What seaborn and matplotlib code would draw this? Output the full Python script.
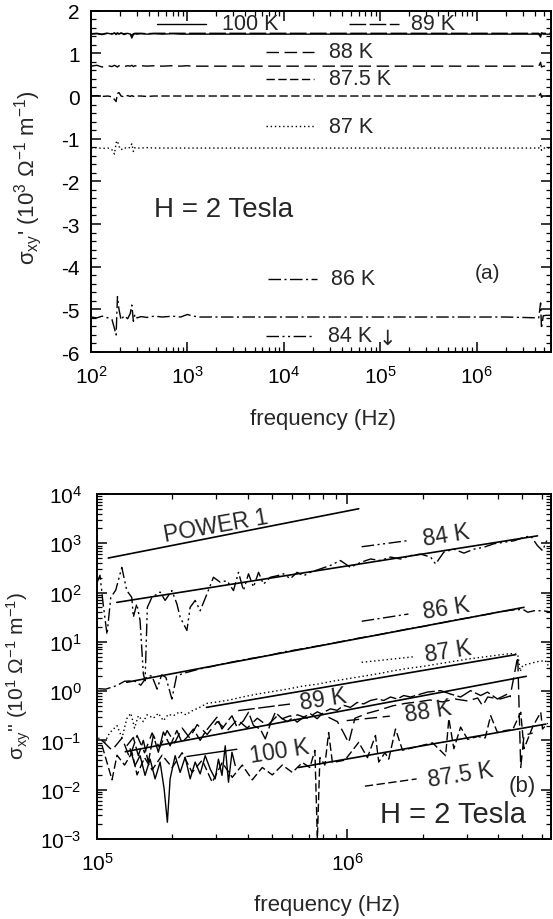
import numpy as np
import matplotlib
matplotlib.use("Agg")
import matplotlib.pyplot as plt
from matplotlib.lines import Line2D
from matplotlib.ticker import LogLocator, MultipleLocator, NullFormatter
import seaborn as sns

sns.set_style("ticks")
plt.rcParams['font.family'] = ['Liberation Sans', 'DejaVu Sans']
plt.rcParams['mathtext.fontset'] = 'custom'
plt.rcParams['mathtext.rm'] = 'Liberation Sans'
plt.rcParams['mathtext.it'] = 'Liberation Sans:italic'
plt.rcParams['mathtext.bf'] = 'Liberation Sans:bold'
plt.rcParams['mathtext.default'] = 'regular'
plt.rcParams['lines.scale_dashes'] = False
plt.rcParams['axes.unicode_minus'] = False

# ---------------- panel (a): sigma_xy' vs frequency ----------------
freq_a = [100, 115, 130, 150, 165, 175, 182, 188, 195, 205, 220, 240, 255, 265, 275,
          285, 300, 330, 380, 450, 550, 700, 850, 1000, 1100, 1300, 2000, 5000, 2e4,
          1e5, 5e5, 2e6, 4.4e6, 4.6e6, 4.7e6, 4.9e6, 5.3e6, 5.9e6]
sig_a_100 = [1.45, 1.46, 1.44, 1.47, 1.45, 1.48, 1.44, 1.47, 1.45, 1.48, 1.44, 1.47, 1.45, 1.36, 1.44,
             1.46, 1.45, 1.46, 1.45, 1.46, 1.45, 1.46, 1.45, 1.45, 1.45, 1.45, 1.45, 1.45, 1.45,
             1.45, 1.45, 1.45, 1.45, 1.38, 1.47, 1.45, 1.45, 1.45]
sig_a_89 = [1.46, 1.47, 1.45, 1.48, 1.46, 1.47, 1.46, 1.48, 1.46, 1.47, 1.46, 1.47, 1.46, 1.42, 1.46,
            1.47, 1.47, 1.47, 1.46, 1.47, 1.47, 1.47, 1.47, 1.47, 1.47, 1.47, 1.47, 1.47, 1.47,
            1.47, 1.47, 1.47, 1.47, 1.43, 1.48, 1.47, 1.47, 1.47]
sig_a_88 = [0.70, 0.72, 0.68, 0.71, 0.69, 0.72, 0.70, 0.68, 0.71, 0.72, 0.69, 0.71, 0.70, 0.72, 0.69,
            0.71, 0.70, 0.71, 0.70, 0.71, 0.70, 0.71, 0.70, 0.71, 0.70, 0.70, 0.70, 0.70, 0.70,
            0.70, 0.70, 0.70, 0.70, 0.79, 0.68, 0.70, 0.70, 0.70]
sig_a_875 = [0.00, 0.01, -0.01, 0.00, -0.02, -0.08, -0.13, 0.06, 0.08, 0.00, -0.02, 0.01, -0.01, 0.01, -0.01,
             0.00, 0.00, 0.00, -0.01, 0.00, 0.00, 0.00, 0.00, 0.00, 0.00, 0.00, 0.00, 0.00, 0.00,
             0.00, 0.00, 0.00, 0.00, 0.06, -0.03, 0.00, 0.00, 0.00]
sig_a_87 = [-1.22, -1.21, -1.23, -1.22, -1.26, -1.36, -1.10, -1.05, -1.18, -1.26, -1.21, -1.23, -1.20, -1.12, -1.30,
            -1.21, -1.22, -1.22, -1.21, -1.22, -1.22, -1.22, -1.22, -1.22, -1.22, -1.22, -1.22, -1.22, -1.22,
            -1.22, -1.22, -1.22, -1.22, -1.15, -1.27, -1.22, -1.22, -1.22]
sig_a_86 = [-5.18, -5.20, -5.16, -5.20, -5.24, -5.45, -5.60, -4.70, -5.00, -5.25, -5.15, -5.22, -5.10, -4.90, -5.28,
            -5.12, -5.20, -5.17, -5.19, -5.16, -5.18, -5.16, -5.18, -5.12, -5.15, -5.18, -5.18, -5.18, -5.18,
            -5.18, -5.18, -5.18, -5.20, -4.85, -5.45, -5.15, -5.14, -5.14]

# ---------------- panel (b): sigma_xy'' vs frequency (values read as decade exponents) ----------------
logf_84 = [5.000, 5.012, 5.025, 5.040, 5.055, 5.075, 5.099, 5.119, 5.139, 5.145, 5.159, 5.172, 5.185, 5.192,
           5.201, 5.219, 5.252, 5.272, 5.299, 5.319, 5.332, 5.359, 5.372, 5.392, 5.412, 5.439, 5.465, 5.492,
           5.519, 5.545, 5.565, 5.585, 5.605, 5.625, 5.645, 5.665, 5.692, 5.719, 5.745, 5.772, 5.799, 5.825,
           5.852, 5.892, 5.932, 5.972, 6.012, 6.052, 6.092, 6.132, 6.172, 6.212, 6.252, 6.292, 6.332, 6.352,
           6.385, 6.425, 6.465, 6.505, 6.545, 6.585, 6.625, 6.665, 6.705, 6.732, 6.759, 6.779, 6.799]
logs_84 = [2.20, 2.35, 1.75, 1.15, 1.90, 2.05, 2.51, 2.04, 1.90, 1.50, 1.77, 1.43, 0.35, 0.21,
           1.70, 1.90, 2.01, 1.84, 2.04, 1.77, 1.50, 1.23, 1.70, 1.84, 1.63, 1.97, 2.31, 2.21,
           2.24, 2.04, 2.41, 2.04, 2.38, 2.11, 2.41, 2.17, 2.31, 2.34, 2.38, 2.28, 2.41, 2.34,
           2.41, 2.48, 2.55, 2.65, 2.51, 2.61, 2.68, 2.65, 2.72, 2.68, 2.75, 2.78, 2.72, 2.58,
           2.82, 2.88, 2.80, 2.88, 2.92, 2.99, 3.02, 3.05, 3.12, 3.15, 2.95, 2.85, 3.09]
logf_86 = [5.005, 5.035, 5.078, 5.110, 5.148, 5.175, 5.200, 5.219, 5.240, 5.258, 5.275, 5.299, 5.318, 5.345,
           5.374, 5.410, 5.459, 5.500, 5.550, 5.600, 5.650, 5.700, 5.750, 5.800, 5.850, 5.900, 5.950, 6.000,
           6.050, 6.100, 6.150, 6.200, 6.250, 6.300, 6.350, 6.400, 6.450, 6.500, 6.550, 6.600, 6.650, 6.700,
           6.720, 6.745, 6.780, 6.810]
logs_86 = [0.05, 0.04, 0.11, 0.20, 0.21, 0.12, 0.30, 0.31, 0.04, 0.33, 0.28, -0.16, 0.31, 0.36,
           0.40, 0.45, 0.50, 0.55, 0.60, 0.65, 0.69, 0.74, 0.80, 0.84, 0.89, 0.93, 0.98, 1.03,
           1.08, 1.12, 1.17, 1.22, 1.27, 1.31, 1.36, 1.41, 1.46, 1.50, 1.55, 1.60, 1.64, 1.66,
           1.60, 1.63, 1.63, 1.61]
logf_87 = [5.005, 5.012, 5.030, 5.050, 5.080, 5.100, 5.119, 5.135, 5.150, 5.165, 5.185, 5.200, 5.225, 5.245,
           5.265, 5.285, 5.305, 5.330, 5.355, 5.380, 5.410, 5.439, 5.480, 5.530, 5.580, 5.640, 5.700, 5.760,
           5.820, 5.880, 5.940, 6.000, 6.060, 6.120, 6.180, 6.240, 6.300, 6.360, 6.420, 6.480, 6.540, 6.600,
           6.650, 6.680, 6.690, 6.700, 6.730, 6.760, 6.790, 6.810]
logs_87 = [-0.95, -0.97, -1.05, -0.85, -0.70, -0.95, -0.56, -0.45, -0.75, -0.50, -0.62, -0.48, -0.55, -0.45,
           -0.60, -0.47, -0.50, -0.42, -0.48, -0.40, -0.33, -0.25, -0.22, -0.18, -0.12, -0.06, -0.01, 0.04,
           0.10, 0.14, 0.20, 0.25, 0.30, 0.35, 0.41, 0.46, 0.50, 0.55, 0.60, 0.65, 0.69, 0.73,
           0.76, 0.75, 0.40, 0.52, 0.56, 0.60, 0.62, 0.45]
logf_89 = [5.119, 5.145, 5.165, 5.185, 5.205, 5.225, 5.245, 5.265, 5.292, 5.319, 5.339, 5.359, 5.385, 5.412,
           5.432, 5.452, 5.479, 5.499, 5.519, 5.539, 5.559, 5.585, 5.605, 5.625, 5.652, 5.672, 5.692, 5.712,
           5.739, 5.772, 5.799, 5.825, 5.852, 5.879, 5.905, 5.932, 5.959, 5.985, 6.012, 6.039, 6.065, 6.092,
           6.119, 6.145, 6.172, 6.199, 6.225, 6.252, 6.292, 6.319, 6.372, 6.412, 6.452, 6.492, 6.532, 6.559,
           6.599, 6.639, 6.652]
logs_89 = [-1.11, -0.94, -1.31, -1.00, -1.44, -0.90, -1.24, -0.83, -1.11, -0.80, -1.04, -0.94, -0.77, -1.00,
           -0.83, -0.70, -0.53, -0.77, -0.63, -0.50, -0.73, -0.60, -0.43, -0.70, -0.77, -0.97, -0.67, -0.43,
           -0.56, -0.50, -0.63, -0.53, -0.46, -0.56, -0.43, -0.36, -0.39, -0.29, -0.33, -0.23, -0.26, -0.19,
           -0.16, -0.19, -0.12, -0.16, -0.09, -0.12, -0.06, -0.02, 0.01, -0.06, -0.12, 0.01, -0.09, -0.02,
           -0.16, -0.06, -0.12]
logf_100 = [5.132, 5.152, 5.172, 5.192, 5.212, 5.232, 5.252, 5.268, 5.281, 5.292, 5.312, 5.332, 5.352,
            5.372, 5.392, 5.412, 5.432, 5.452, 5.472, 5.485, 5.499, 5.512, 5.525, 5.539, 5.552]
logs_100 = [-1.17, -1.51, -1.31, -1.71, -1.38, -1.78, -1.44, -1.98, -2.66, -1.78, -1.31, -1.65, -1.34,
            -1.78, -1.44, -1.68, -1.31, -1.58, -1.78, -1.38, -1.71, -1.11, -1.85, -1.24, -1.51]
logf_88 = [5.020, 5.060, 5.100, 5.130, 5.160, 5.190, 5.220, 5.250, 5.280, 5.310, 5.340, 5.370, 5.400, 5.440,
           5.480, 5.520, 5.560, 5.600, 5.640, 5.680, 5.720, 5.760, 5.800, 5.840, 5.880, 5.920, 5.960, 5.985,
           6.005, 6.030, 6.080, 6.130, 6.180, 6.230, 6.280, 6.330, 6.380, 6.430, 6.480, 6.520, 6.540, 6.560,
           6.610, 6.650, 6.680, 6.692, 6.705, 6.740]
logs_88 = [-1.00, -1.20, -0.95, -1.35, -0.90, -1.25, -0.85, -1.15, -0.80, -1.05, -0.75, -0.95, -0.68, -0.88,
           -0.62, -0.80, -0.58, -0.75, -0.55, -0.70, -0.50, -0.62, -0.48, -0.55, -0.42, -0.52, -0.62, -0.85,
           -1.05, -0.55, -0.45, -0.38, -0.30, -0.25, -0.22, -0.18, -0.22, -0.16, -0.20, -0.14, -0.30, -0.12,
           -0.16, -0.10, 0.70, -1.55, -0.90, -0.85]
logf_875 = [5.020, 5.040, 5.060, 5.080, 5.110, 5.140, 5.160, 5.190, 5.220, 5.260, 5.300, 5.340, 5.380, 5.420,
            5.460, 5.500, 5.540, 5.580, 5.620, 5.660, 5.700, 5.740, 5.780, 5.820, 5.850, 5.870, 5.880, 5.890,
            5.910, 5.925, 5.940, 5.990, 6.045, 6.080, 6.112, 6.125, 6.150, 6.165, 6.192, 6.220, 6.260, 6.300,
            6.340, 6.392, 6.405, 6.425, 6.452, 6.480, 6.520, 6.550, 6.572, 6.599, 6.630, 6.660, 6.692, 6.705,
            6.740, 6.772, 6.779, 6.800]
logs_875 = [-1.10, -1.45, -1.80, -1.30, -1.50, -1.25, -1.70, -1.35, -1.60, -1.30, -1.55, -1.25, -1.65, -1.40,
            -1.85, -1.45, -1.75, -1.50, -1.80, -1.55, -1.70, -1.50, -1.65, -1.45, -1.55, -1.20, -3.00, -1.35,
            -1.50, -0.84, -1.45, -1.40, -1.04, -1.35, -0.90, -1.44, -1.25, -1.38, -0.77, -1.20, -1.15, -1.10,
            -1.05, -1.31, -0.56, -1.17, -0.73, -0.98, -0.92, -0.95, -0.50, -0.84, -0.80, -0.78, -0.43, -1.17,
            -0.72, -0.43, -0.77, -0.65]

# straight fitted lines (end points, decade exponents)
fit_logf_84, fit_logs_84 = [5.079, 6.759], [1.80, 3.15]
fit_logf_86, fit_logs_86 = [5.119, 6.705], [0.18, 1.70]
fit_logf_87, fit_logs_87 = [5.437, 6.672], [-0.33, 0.74]
fit_logf_89, fit_logs_89 = [5.113, 6.714], [-1.23, 0.30]
fit_logf_875, fit_logs_875 = [5.805, 6.792], [-1.55, -0.67]
power1_logf, power1_logs = [5.045, 6.045], [2.70, 3.70]

# line styles per temperature
STY = {
    '100 K': '-',
    '89 K': (0, (12, 2.5)),
    '88 K': (0, (9, 4)),
    '87.5 K': (0, (6, 2.5)),
    '87 K': (0, (1, 2)),
    '86 K': (0, (9, 2.5, 1.5, 2.5)),
    '84 K': (0, (9, 2.5, 1.5, 2.5, 1.5, 2.5)),
}

fig = plt.figure(figsize=(5.53, 9.2), dpi=100)
ax1 = fig.add_axes([0.1646, 0.6163, 0.8318, 0.3710])
ax2 = fig.add_axes([0.1754, 0.0870, 0.8210, 0.3750])

LW = 1.0


def curve(ax, x, y, label, lw=LW):
    sns.lineplot(x=x, y=y, ax=ax, color='black', lw=lw, linestyle=STY[label],
                 estimator=None, sort=False, legend=False)


# ---- panel (a) ----
curve(ax1, freq_a, sig_a_100, '100 K')
curve(ax1, freq_a, sig_a_89, '89 K')
curve(ax1, freq_a, sig_a_88, '88 K')
curve(ax1, freq_a, sig_a_875, '87.5 K')
curve(ax1, freq_a, sig_a_87, '87 K')
curve(ax1, freq_a, sig_a_86, '86 K')

ax1.set_xscale('log')
ax1.set_xlim(1e2, 5.9e6)
ax1.set_ylim(-6, 2)
ax1.yaxis.set_major_locator(MultipleLocator(1))
ax1.yaxis.set_minor_locator(MultipleLocator(0.2))
ax1.xaxis.set_major_locator(LogLocator(base=10, numticks=20))
ax1.xaxis.set_minor_locator(LogLocator(base=10, subs=np.arange(2, 10), numticks=20))
ax1.xaxis.set_minor_formatter(NullFormatter())


def key_a(ax, x0, x1, y, label, tx):
    ax.add_line(Line2D([x0, x1], [y, y], transform=ax.transAxes, color='black',
                       lw=LW, linestyle=STY[label]))
    ax.text(tx, y, label, transform=ax.transAxes, ha='left',
            va='center', fontsize=15.5)


key_a(ax1, 0.143, 0.250, 0.961, '100 K', 0.284)
key_a(ax1, 0.561, 0.670, 0.961, '89 K', 0.696)
key_a(ax1, 0.380, 0.485, 0.879, '88 K', 0.517)
key_a(ax1, 0.380, 0.485, 0.800, '87.5 K', 0.517)
key_a(ax1, 0.380, 0.485, 0.662, '87 K', 0.517)
key_a(ax1, 0.385, 0.491, 0.214, '86 K', 0.522)
key_a(ax1, 0.380, 0.485, 0.047, '84 K', 0.515)
ax1.text(0.645, 0.040, '\u2193', transform=ax1.transAxes, ha='center', va='center',
         fontsize=15, family='DejaVu Sans')
ax1.text(0.137, 0.419, 'H = 2 Tesla', transform=ax1.transAxes, ha='left', va='center', fontsize=20)
ax1.text(0.863, 0.234, '(a)', transform=ax1.transAxes, ha='center', va='center', fontsize=15)

ax1.set_xlabel('frequency (Hz)', fontsize=16)
ax1.set_ylabel("\u03c3$_{xy}$' (10$^{3}$ \u03a9$^{-1}$ m$^{-1}$)", fontsize=16)
ax1.xaxis.set_label_coords(0.504, -0.165)
ax1.yaxis.set_label_coords(-0.103, 0.515)

# ---- panel (b) ----
def pw(v):
    return np.power(10.0, np.asarray(v, dtype=float))


curve(ax2, pw(logf_84), pw(logs_84), '84 K')
curve(ax2, pw(logf_86), pw(logs_86), '86 K')
curve(ax2, pw(logf_87), pw(logs_87), '87 K')
curve(ax2, pw(logf_89), pw(logs_89), '89 K')
curve(ax2, pw(logf_88), pw(logs_88), '88 K')
curve(ax2, pw(logf_875), pw(logs_875), '87.5 K')
curve(ax2, pw(logf_100), pw(logs_100), '100 K')

for fx, fy in [(fit_logf_84, fit_logs_84), (fit_logf_86, fit_logs_86), (fit_logf_87, fit_logs_87),
               (fit_logf_89, fit_logs_89), (fit_logf_875, fit_logs_875), (power1_logf, power1_logs)]:
    sns.lineplot(x=pw(fx), y=pw(fy), ax=ax2, color='black', lw=1.2, estimator=None,
                 sort=False, legend=False)

ax2.set_xscale('log')
ax2.set_yscale('log')
ax2.set_xlim(1e5, 6.5e6)
ax2.set_ylim(1e-3, 1e4)
ax2.xaxis.set_major_locator(LogLocator(base=10, numticks=20))
ax2.xaxis.set_minor_locator(LogLocator(base=10, subs=np.arange(2, 10), numticks=20))
ax2.xaxis.set_minor_formatter(NullFormatter())
ax2.yaxis.set_major_locator(LogLocator(base=10, numticks=20))
ax2.yaxis.set_minor_locator(LogLocator(base=10, subs=np.arange(2, 10), numticks=20))
ax2.yaxis.set_minor_formatter(NullFormatter())

ROT = 9


def key_b(ax, x0, y0, x1, y1, label, tx, ty):
    ax.add_line(Line2D([x0, x1], [y0, y1], transform=ax.transAxes, color='black',
                       lw=LW, linestyle=STY[label]))
    ax.text(tx, ty, label, transform=ax.transAxes, ha='center',
            va='center', fontsize=16.5, rotation=ROT, rotation_mode='anchor')


key_b(ax2, 0.583, 0.847, 0.686, 0.865, '84 K', 0.769, 0.881)
key_b(ax2, 0.583, 0.631, 0.686, 0.652, '86 K', 0.770, 0.671)
key_b(ax2, 0.583, 0.512, 0.697, 0.528, '87 K', 0.774, 0.545)
key_b(ax2, 0.311, 0.372, 0.425, 0.391, '89 K', 0.498, 0.406)
key_b(ax2, 0.550, 0.343, 0.645, 0.356, '88 K', 0.729, 0.372)
key_b(ax2, 0.198, 0.239, 0.308, 0.260, '100 K', 0.401, 0.254)
key_b(ax2, 0.590, 0.153, 0.704, 0.174, '87.5 K', 0.800, 0.188)
ax2.text(0.262, 0.910, 'POWER 1', transform=ax2.transAxes, ha='center', va='center',
         fontsize=16.5, rotation=10, rotation_mode='anchor')
ax2.text(0.937, 0.155, '(b)', transform=ax2.transAxes, ha='center', va='center', fontsize=16)
ax2.text(0.784, 0.072, 'H = 2 Tesla', transform=ax2.transAxes, ha='center', va='center', fontsize=21)

ax2.set_xlabel('frequency (Hz)', fontsize=16)
ax2.set_ylabel("\u03c3$_{xy}$'' (10$^{1}$ \u03a9$^{-1}$ m$^{-1}$)", fontsize=15)
ax2.xaxis.set_label_coords(0.507, -0.160)
ax2.yaxis.set_label_coords(-0.140, 0.475)

for ax in (ax1, ax2):
    for s in ax.spines.values():
        s.set_visible(True)
        s.set_linewidth(1.4)
        s.set_color('black')
    ax.tick_params(which='both', direction='in', top=True, right=True, colors='black')
    ax.tick_params(which='major', length=7, width=1.1, labelsize=15)
    ax.tick_params(which='minor', length=3.5, width=0.9)
    ax.tick_params(axis='x', which='major', pad=9)
ax1.tick_params(axis='y', which='major', pad=8)
ax2.tick_params(axis='y', which='major', pad=11)

fig.savefig('out.png', dpi=100, facecolor='white')
